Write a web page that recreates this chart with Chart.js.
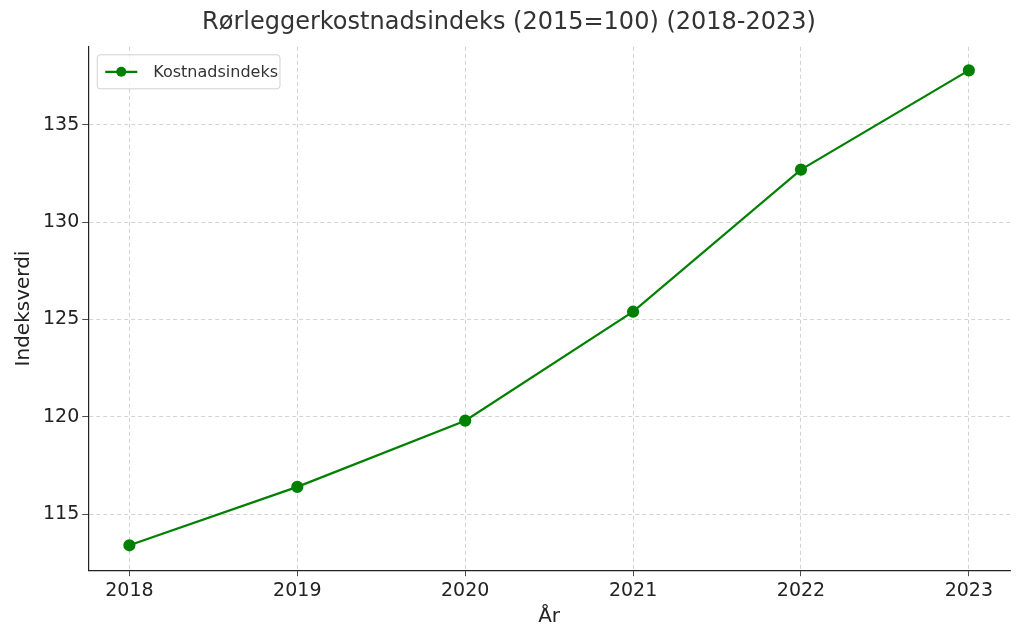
<!DOCTYPE html>
<html lang="no">
<head>
<meta charset="UTF-8">
<title>Rørleggerkostnadsindeks</title>
<script src="https://cdn.jsdelivr.net/npm/chart.js"></script>
<style>
  html, body { margin: 0; padding: 0; background: #fff; }
  #wrap { width: 1024px; height: 635px; }
</style>
</head>
<body>
<div id="wrap"><canvas id="chart"></canvas></div>
<script>
const years = [2018, 2019, 2020, 2021, 2022, 2023];
const indexValues = [113.4, 116.4, 119.8, 125.4, 132.7, 137.8];
const yTicks = [115, 120, 125, 130, 135];
const seriesLabel = 'Kostnadsindeks';

const font = 'DejaVu Sans';
const green = '#008000';
const gridDash = { color: '#c8c8c8', lineWidth: 0.8 };

// legend box in the upper-left corner of the plot, drawn by hand
const cornerLegend = {
  id: 'cornerLegend',
  afterDraw(chart) {
    const { ctx, chartArea } = chart;
    const x = chartArea.left + 9, y = chartArea.top + 8;
    ctx.save();
    ctx.font = '16px ' + font;
    const w = 48 + ctx.measureText(seriesLabel).width + 10, h = 34;
    ctx.fillStyle = 'rgba(255,255,255,0.8)';
    ctx.strokeStyle = '#d0d0d0';
    ctx.lineWidth = 1;
    ctx.beginPath();
    ctx.roundRect(x, y, w, h, 3);
    ctx.fill();
    ctx.stroke();
    const cy = y + h / 2;
    ctx.strokeStyle = green;
    ctx.lineWidth = 2.2;
    ctx.beginPath();
    ctx.moveTo(x + 8, cy);
    ctx.lineTo(x + 40, cy);
    ctx.stroke();
    ctx.fillStyle = green;
    ctx.beginPath();
    ctx.arc(x + 24, cy, 5, 0, Math.PI * 2);
    ctx.fill();
    ctx.fillStyle = '#333';
    ctx.textBaseline = 'middle';
    ctx.fillText(seriesLabel, x + 56, cy + 1);
    ctx.restore();
  }
};

new Chart(document.getElementById('chart'), {
  type: 'line',
  data: {
    datasets: [{
      label: seriesLabel,
      data: years.map((y, i) => ({ x: y, y: indexValues[i] })),
      borderColor: green,
      backgroundColor: green,
      borderWidth: 2.2,
      pointRadius: 5,
      pointHoverRadius: 5,
      fill: false,
      tension: 0
    }]
  },
  plugins: [cornerLegend],
  options: {
    responsive: true,
    maintainAspectRatio: false,
    animation: false,
    layout: { padding: { top: 0, right: 14, bottom: 2, left: 8 } },
    plugins: {
      title: {
        display: true,
        text: 'Rørleggerkostnadsindeks (2015=100) (2018-2023)',
        color: '#333',
        font: { family: font, size: 24, weight: 'normal' },
        padding: { top: 8, bottom: 10 }
      },
      legend: { display: false },
      tooltip: { enabled: false }
    },
    scales: {
      x: {
        type: 'linear',
        min: 2017.755,
        max: 2023.245,
        afterBuildTicks: axis => { axis.ticks = years.map(v => ({ value: v })); },
        ticks: { color: '#222', font: { family: font, size: 19 }, callback: v => String(v) },
        grid: { ...gridDash, drawTicks: true, tickLength: 6, tickColor: '#222' },
        border: { display: true, color: '#222', width: 1.2, dash: [4, 3] },
        title: { display: true, text: 'År', color: '#222', font: { family: font, size: 20 }, padding: { top: 0 } }
      },
      y: {
        min: 112.12,
        max: 139.01,
        afterBuildTicks: axis => { axis.ticks = yTicks.map(v => ({ value: v })); },
        ticks: { color: '#222', font: { family: font, size: 19 } },
        grid: { ...gridDash, tickLength: 6, tickColor: '#222' },
        border: { display: true, color: '#222', width: 1.2, dash: [4, 3] },
        title: { display: true, text: 'Indeksverdi', color: '#222', font: { family: font, size: 20 } }
      }
    }
  }
});
</script>
</body>
</html>
